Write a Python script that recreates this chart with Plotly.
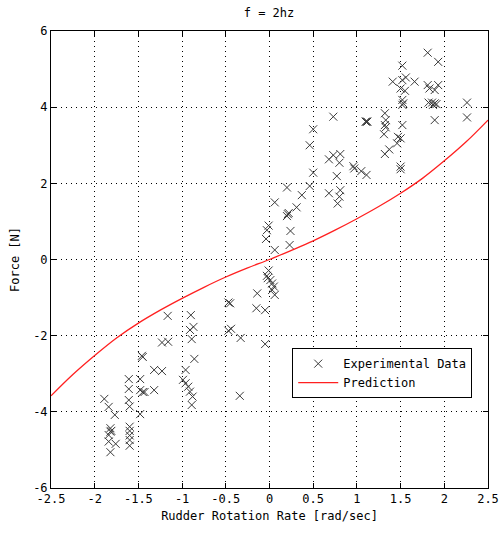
import plotly.graph_objects as go

# Experimental data (rudder rotation rate [rad/sec], force [N])
exp_x = [-1.165, -0.90, -0.91, -0.87, -0.89, -1.23, -1.16, -0.86, -1.46, -1.45,
         -1.32, -1.23, -0.96, -1.61, -1.48, -1.61, -1.48, -1.45, -1.43, -1.32,
         -0.99, -0.96, -0.93, -0.91, -1.89, -1.84, -1.77, -1.61, -1.60, -1.48,
         -0.89, -0.88, -1.82, -1.82, -1.81, -1.84, -1.84, -1.76, -1.82, -1.60,
         -1.60, -1.60, -1.60, -1.60, -0.34,
         0.20, 0.06, 0.22, 0.21, 0.20, 0.24, -0.01, -0.03, -0.04, 0.06, 0.23,
         -0.01, -0.03, -0.02, 0.01, 0.03, 0.05, 0.06, 0.03, -0.14, -0.15, -0.05,
         -0.45, -0.47, -0.47, -0.44, -0.33, -0.05,
         0.73, 1.10, 1.11, 1.12, 0.50, 0.46, 0.73, 0.68, 0.81, 0.80, 0.50, 0.96,
         0.97, 1.05, 1.11, 0.77, 0.46, 0.37, 0.68, 0.81, 0.80, 0.78, 0.31,
         1.81, 1.93, 1.52, 1.41, 1.52, 1.56, 1.66, 1.50, 1.55, 1.81, 1.83, 1.93,
         1.89, 1.52, 1.53, 1.52, 1.82, 1.86, 1.89, 1.91, 1.87, 2.26, 2.26, 1.89,
         1.52, 1.32, 1.33, 1.32, 1.33, 1.31, 1.47, 1.50, 1.46, 1.37, 1.32, 1.50,
         1.50]
exp_y = [-1.48, -1.46, -1.85, -1.77, -2.09, -2.18, -2.16, -2.61, -2.53, -2.56,
         -2.90, -2.93, -2.90, -3.14, -3.14, -3.40, -3.43, -3.48, -3.48, -3.43,
         -3.16, -3.25, -3.34, -3.47, -3.66, -3.87, -4.08, -3.69, -3.86, -4.06,
         -3.82, -3.60, -4.43, -4.52, -4.50, -4.61, -4.78, -4.84, -5.06, -4.39,
         -4.50, -4.62, -4.74, -4.89, -3.58,
         1.89, 1.50, 1.22, 1.19, 1.14, 0.75, 0.89, 0.77, 0.54, 0.25, 0.38,
         -0.29, -0.43, -0.49, -0.54, -0.63, -0.71, -0.93, -0.80, -0.89, -1.28, -1.33,
         -1.15, -1.13, -1.87, -1.82, -2.06, -2.22,
         3.75, 3.62, 3.62, 3.62, 3.42, 3.00, 2.74, 2.63, 2.77, 2.54, 2.28, 2.45,
         2.39, 2.32, 2.22, 2.19, 1.93, 1.69, 1.74, 1.82, 1.65, 1.47, 1.37,
         5.43, 5.19, 5.09, 4.67, 4.71, 4.78, 4.67, 4.49, 4.43, 4.58, 4.49, 4.58,
         4.45, 4.19, 4.10, 4.06, 4.12, 4.12, 4.10, 4.08, 4.06, 4.12, 3.73, 3.66,
         3.53, 3.84, 3.66, 3.53, 3.47, 3.29, 3.22, 3.18, 3.05, 2.89, 2.77, 2.44,
         2.37]

# Prediction curve
pred_x = [-2.5, -2.25, -2.0, -1.75, -1.5, -1.25, -1.0, -0.75, -0.5, -0.25, 0.0,
          0.25, 0.5, 0.75, 1.0, 1.25, 1.5, 1.75, 2.0, 2.25, 2.5]
pred_y = [-3.58, -3.02, -2.52, -2.06, -1.67, -1.33, -1.02, -0.73, -0.46, -0.22, 0.0,
          0.24, 0.49, 0.77, 1.07, 1.39, 1.74, 2.13, 2.59, 3.09, 3.66]

x_ticks = [-2.5, -2, -1.5, -1, -0.5, 0, 0.5, 1, 1.5, 2, 2.5]
x_labels = ["-2.5", "-2", "-1.5", "-1", "-0.5", "0", "0.5", "1", "1.5", "2", "2.5"]
y_ticks = [-6, -4, -2, 0, 2, 4, 6]
y_labels = ["-6", "-4", "-2", "0", "2", "4", "6"]

FONT = "DejaVu Sans Mono"

fig = go.Figure()
fig.add_trace(go.Scatter(
    x=exp_x, y=exp_y, mode="markers", name="Experimental Data",
    marker=dict(symbol="x-thin-open", size=8, color="#3a3a3a",
                line=dict(width=1, color="#3a3a3a")),
))
fig.add_trace(go.Scatter(
    x=pred_x, y=pred_y, mode="lines", name="Prediction",
    line=dict(color="#ff2020", width=1.3, shape="spline", smoothing=1.0),
))

axis_common = dict(
    showgrid=True, gridcolor="black", griddash="1px,4px", gridwidth=1,
    zeroline=False, showline=True, linecolor="black", linewidth=1, mirror="ticks",
    ticks="inside", ticklen=5, tickcolor="black", automargin=False,
    tickfont=dict(family=FONT, size=12, color="black"),
)

fig.update_layout(
    width=500, height=542,
    margin=dict(l=51, r=12, t=31, b=54),
    paper_bgcolor="white", plot_bgcolor="white",
    title=dict(text="f = 2hz", x=0.538, xanchor="center", y=0.985, yanchor="top",
               font=dict(family=FONT, size=12, color="black")),
    xaxis=dict(range=[-2.5, 2.5], tickvals=x_ticks, ticktext=x_labels,
               title=dict(text="Rudder Rotation Rate [rad/sec]", standoff=6,
                          font=dict(family=FONT, size=12, color="black")),
               **axis_common),
    yaxis=dict(range=[-6, 6], tickvals=y_ticks, ticktext=y_labels,
               title=dict(text="Force [N]", standoff=10,
                          font=dict(family=FONT, size=12, color="black")),
               **axis_common),
    legend=dict(x=0.552, y=0.306, xanchor="left", yanchor="top",
                bgcolor="white", bordercolor="black", borderwidth=1,
                font=dict(family=FONT, size=12, color="black"),
                itemwidth=40, tracegroupgap=0),
    showlegend=True,
)

fig.write_html("out.html")
